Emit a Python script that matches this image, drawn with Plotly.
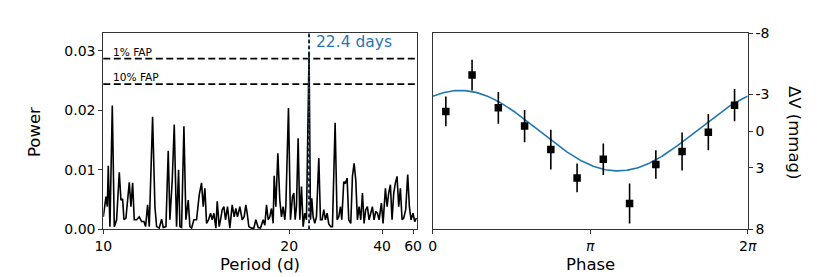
import numpy as np
import plotly.graph_objects as go

# ---------------- data: periodogram ----------------
frequency = [0.1000, 0.09928, 0.09892, 0.09866, 0.09821, 0.09758, 0.09704, 0.09642, 0.09570, 0.09525,
             0.09480, 0.09444, 0.09391, 0.09301, 0.09256, 0.09211, 0.09167, 0.09104, 0.09032, 0.08969,
             0.08907, 0.08862, 0.08808, 0.08763, 0.08674, 0.08611, 0.08566, 0.08495, 0.08432, 0.08387,
             0.08315, 0.08253, 0.08208, 0.08145, 0.08091, 0.08029, 0.07975, 0.07939, 0.07894, 0.07831,
             0.07778, 0.07715, 0.07670, 0.07625, 0.07563, 0.07491, 0.07419, 0.07357, 0.07312, 0.07267,
             0.07222, 0.07168, 0.07115, 0.07070, 0.07025, 0.06971, 0.06935, 0.06882, 0.06846, 0.06801,
             0.06756, 0.06711, 0.06658, 0.06595, 0.06532, 0.06478, 0.06434, 0.06389, 0.06326, 0.06263,
             0.06210, 0.06165, 0.06129, 0.06084, 0.06012, 0.05950, 0.05896, 0.05833, 0.05770, 0.05699,
             0.05654, 0.05609, 0.05564, 0.05520, 0.05475, 0.05430, 0.05403, 0.05358, 0.05304, 0.05251,
             0.05206, 0.05161, 0.05116, 0.05089, 0.05018, 0.04964, 0.04910, 0.04874, 0.04838, 0.04803,
             0.04758, 0.04713, 0.04668, 0.04623, 0.04579, 0.04534, 0.04464, 0.04426, 0.04391, 0.04355,
             0.04310, 0.04265, 0.04202, 0.04157, 0.04113, 0.04068, 0.04023, 0.03978, 0.03934, 0.03880,
             0.03835, 0.03763, 0.03709, 0.03665, 0.03620, 0.03584, 0.03530, 0.03485, 0.03441, 0.03396,
             0.03342, 0.03297, 0.03252, 0.03208, 0.03163, 0.03118, 0.03073, 0.03028, 0.02984, 0.02939,
             0.02894, 0.02849, 0.02804, 0.02760, 0.02715, 0.02670, 0.02625, 0.02580, 0.02518, 0.02473,
             0.02410, 0.02365, 0.02321, 0.02276, 0.02231, 0.02186, 0.02141, 0.02097, 0.02052, 0.02007,
             0.01962, 0.01917, 0.01864, 0.01810, 0.01765, 0.01720, 0.01667, 0.01622, 0.01577]
power = [0.0021, 0.0055, 0.0038, 0.0107, 0.00045, 0.0208, 0.00045, 0.0016, 0.0096, 0.0049,
         0.0051, 0.0016, 0.0019, 0.0079, 0.0038, 0.0078, 0.0016, 0.0016, 0.0021, 0.0013,
         0.0013, 0.00045, 0.0041, 0.00045, 0.0189, 0.0038, 0.00045, 0.0002, 0.0017, 0.0003,
         0.00045, 0.0132, 0.0016, 0.0083, 0.0176, 0.00045, 0.0100, 0.00045, 0.0003, 0.0173,
         0.0016, 0.0049, 0.00045, 0.0002, 0.0016, 0.0016, 0.0058, 0.0078, 0.0038, 0.0069,
         0.0010, 0.0016, 0.0027, 0.0016, 0.0027, 0.0002, 0.0047, 0.00045, 0.0016, 0.0033,
         0.0038, 0.0016, 0.0038, 0.0002, 0.0041, 0.0021, 0.0035, 0.0021, 0.0038, 0.0016,
         0.0021, 0.0041, 0.0027, 0.00045, 0.0002, 0.0002, 0.0016, 0.0003, 0.0002, 0.0016,
         0.0007, 0.0041, 0.0016, 0.0021, 0.0035, 0.0010, 0.0090, 0.0038, 0.0128, 0.0049,
         0.0021, 0.0038, 0.0016, 0.0038, 0.0204, 0.0016, 0.0055, 0.0061, 0.0016, 0.0038,
         0.0153, 0.0016, 0.0072, 0.00045, 0.0027, 0.0016, 0.0298, 0.0016, 0.0052, 0.0021,
         0.0010, 0.0021, 0.0120, 0.0016, 0.0016, 0.0033, 0.0016, 0.0027, 0.0009, 0.00045,
         0.00045, 0.0179, 0.0016, 0.0021, 0.0038, 0.0016, 0.0080, 0.0078, 0.0086, 0.0016,
         0.0010, 0.0089, 0.0111, 0.0083, 0.0016, 0.0038, 0.0016, 0.0061, 0.0010, 0.0033,
         0.0038, 0.0016, 0.0027, 0.0038, 0.0016, 0.0030, 0.0027, 0.0016, 0.0044, 0.0010,
         0.0069, 0.0038, 0.0061, 0.0075, 0.0016, 0.0061, 0.0078, 0.0089, 0.0038, 0.0069,
         0.0016, 0.0019, 0.0033, 0.0092, 0.0038, 0.0016, 0.0027, 0.0013, 0.0019]

fap_levels = [0.0287, 0.0244]
fap_labels = ["1% FAP", "10% FAP"]
best_period = 22.4
period_ticks = [10, 20, 40, 60]
freq_range = [0.1, 0.0156]

# ---------------- data: phase-folded light curve ----------------
phase = [0.262, 0.785, 1.309, 1.833, 2.356, 2.880, 3.403, 3.927, 4.451, 4.974, 5.498, 6.021]
delta_v = [-1.61, -4.57, -1.90, -0.41, 1.50, 3.81, 2.29, 5.90, 2.72, 1.66, 0.08, -2.12]
delta_v_err = [1.22, 1.25, 1.29, 1.31, 1.62, 1.17, 1.28, 1.63, 1.16, 1.54, 1.47, 1.31]
fit_amplitude = 3.28
fit_phase0 = 0.55
fit_offset = -0.04
dv_ticks = [-8, -3, 0, 3, 8]

BLUE = "#1f77b4"
FONT = "DejaVu Sans"
AX = "#333333"
W, H = 830, 277


def px_x(v):
    return v / W


def px_y(v):
    return 1 - v / H


fig = go.Figure()

# periodogram
fig.add_trace(go.Scatter(x=frequency, y=power, mode="lines",
                         line=dict(color="black", width=1.6), xaxis="x", yaxis="y",
                         showlegend=False, hoverinfo="skip"))

# FAP lines
for lvl in fap_levels:
    fig.add_shape(type="line", xref="x domain", yref="y", x0=0, x1=1, y0=lvl, y1=lvl,
                  line=dict(color="black", width=1.6, dash="7px,3.5px"))
for lvl, lab in zip(fap_levels, fap_labels):
    fig.add_annotation(x=0.025, xref="x domain", y=lvl, yref="y", text=lab, showarrow=False,
                       xanchor="left", yanchor="bottom", yshift=-1,
                       font=dict(family=FONT, size=10.6, color="black"))

# best period line
fig.add_shape(type="line", xref="x", yref="y domain", x0=1 / best_period, x1=1 / best_period,
              y0=0, y1=1, line=dict(color=BLUE, width=1.6, dash="4px,2px"))
fig.add_shape(type="line", xref="x", yref="y domain", x0=1 / best_period, x1=1 / best_period,
              y0=0, y1=1, line=dict(color="black", width=1.4, dash="dot"))
fig.add_annotation(x=1 / best_period, xref="x", y=1, yref="y domain", text=f"{best_period} days",
                   showarrow=False, xanchor="left", yanchor="top", xshift=5, yshift=2,
                   font=dict(family=FONT, size=15.5, color=BLUE))

# fit curve
phase_grid = np.linspace(0, 2 * np.pi, 300)
fit_curve = fit_offset - fit_amplitude * np.cos(phase_grid - fit_phase0)
fig.add_trace(go.Scatter(x=phase_grid, y=fit_curve, mode="lines",
                         line=dict(color=BLUE, width=1.6), xaxis="x2", yaxis="y2",
                         showlegend=False, hoverinfo="skip"))
# binned points
fig.add_trace(go.Scatter(x=phase, y=delta_v, mode="markers",
                         marker=dict(symbol="square", size=7.5, color="black"),
                         error_y=dict(type="data", array=delta_v_err, thickness=1.6, width=0,
                                      color="black"),
                         xaxis="x2", yaxis="y2", showlegend=False))

# axis titles as annotations for exact placement
title_font = dict(family=FONT, size=16.5, color="black")
for tx, ty, txt, ang in [(34, 132, "Power", -90), (260, 264, "Period (d)", 0),
                         (590, 264, "Phase", 0), (795, 132, "ΔV (mmag)", 90)]:
    fig.add_annotation(x=px_x(tx), y=px_y(ty), xref="paper", yref="paper", text=txt,
                       showarrow=False, textangle=ang, xanchor="center", yanchor="middle",
                       font=title_font)

common_axis = dict(showline=True, linecolor=AX, linewidth=1, mirror=True, ticks="outside",
                   ticklen=4, tickcolor=AX, tickwidth=1, showgrid=False, zeroline=False,
                   automargin=False,
                   tickfont=dict(family=FONT, size=14, color="black"))

fig.update_layout(
    width=W, height=H, margin=dict(l=0, r=0, t=0, b=0),
    paper_bgcolor="white", plot_bgcolor="white",
    xaxis=dict(domain=[px_x(103.3), px_x(417)], range=freq_range,
               tickvals=[1 / p for p in period_ticks], ticktext=[str(p) for p in period_ticks],
               anchor="y", **common_axis),
    yaxis=dict(domain=[px_y(229.3), px_y(33)], range=[0, 0.033],
               tickvals=[0, 0.01, 0.02, 0.03], ticktext=["0.00", "0.01", "0.02", "0.03"],
               anchor="x", **common_axis),
    xaxis2=dict(domain=[px_x(432.7), px_x(747.7)], range=[0, 2 * np.pi],
                tickvals=[0, np.pi, 2 * np.pi],
                ticktext=["0", "<i>π</i>", "2<i>π</i>"],
                anchor="y2", **common_axis),
    yaxis2=dict(domain=[px_y(229.3), px_y(33)], range=[8, -8], side="right",
                tickvals=dv_ticks, ticktext=[str(t) for t in dv_ticks],
                anchor="x2", **common_axis),
)

fig.write_html("out.html", config={"displayModeBar": False},
               post_script="document.body.style.margin='0px';")
